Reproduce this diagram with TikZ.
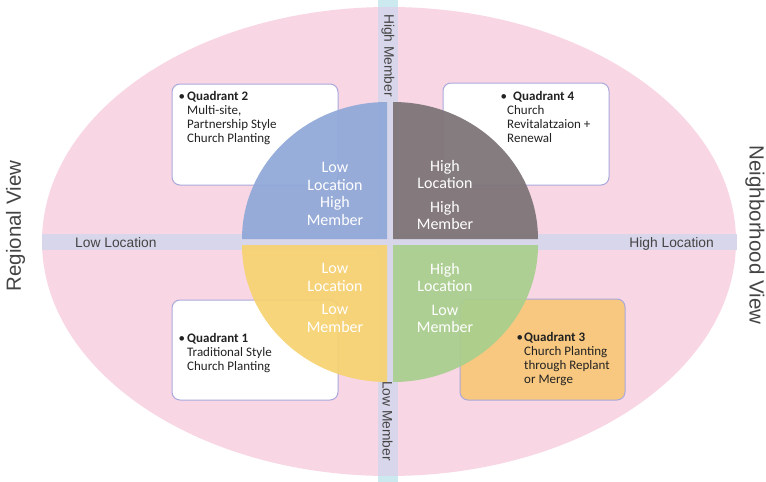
\documentclass[tikz,border=0pt]{standalone}
\usepackage{fontspec}
\setmainfont{Carlito}
\newfontfamily\axisfont{Liberation Sans}

\definecolor{viewpink}{HTML}{F8D6E4}
\definecolor{barlav}{HTML}{D8D6EA}
\definecolor{barcyan}{HTML}{CDE9F0}
\definecolor{boxline}{HTML}{A9A9DC}
\definecolor{quadblue}{HTML}{8FA8D8}
\definecolor{quadgray}{HTML}{7E7578}
\definecolor{quadyellow}{HTML}{F6D270}
\definecolor{quadgreen}{HTML}{A8CF8E}
\definecolor{replant}{HTML}{F8C880}
\definecolor{inkdark}{HTML}{222222}
\definecolor{inkgray}{HTML}{444444}

\begin{document}
\begin{tikzpicture}[x=1pt, y=-1pt, inner sep=0pt,
    quadbox/.style={draw=boxline, line width=1pt, rounded corners=8pt},
    boxtext/.style={anchor=base west, align=left, text=inkdark, font=\fontsize{13}{13.8}\selectfont},
    quadtext/.style={align=center, text=white, font=\fontsize{16}{17.4}\selectfont},
    axistext/.style={text=inkgray, font=\axisfont\fontsize{13.8}{16}\selectfont},
    viewtext/.style={text=inkgray, font=\axisfont\fontsize{20.5}{24}\selectfont}]
        \useasboundingbox (0, 0) rectangle (766, 482);
        \fill[viewpink] (389, 241.5) ellipse [x radius=347, y radius=234.5]; % outer view
        \fill[barcyan] (378, 0) rectangle (398, 482); % member axis
        \begin{scope}
            \clip (389, 241.5) ellipse [x radius=347, y radius=234.5];
            \fill[barlav] (378, 0) rectangle (398, 482); % member axis inside view
        \end{scope}
        \fill[barlav] (42, 234) rectangle (737, 250); % location axis
        \draw[quadbox, fill=white] (172, 84) rectangle (338, 185); % quadrant 2 box
        \draw[quadbox, fill=white] (443, 83) rectangle (609, 185); % quadrant 4 box
        \draw[quadbox, fill=white] (172, 300) rectangle (338, 400); % quadrant 1 box
        \draw[quadbox, fill=replant] (460, 299) rectangle (625, 400); % quadrant 3 box
        \node[boxtext] (q2) at (187, 142) {\llap{\textbullet\hspace{2pt}}\textbf{Quadrant 2}\\Multi-site,\\Partnership Style\\Church Planting};
        \node[boxtext] (q4) at (507, 142) {\llap{\textbullet}\hspace{6pt}\textbf{Quadrant 4}\\Church\\Revitalatzaion +\\Renewal};
        \node[boxtext] (q1) at (187, 370) {\llap{\textbullet\hspace{2pt}}\textbf{Quadrant 1}\\Traditional Style\\Church Planting};
        \node[boxtext] (q3) at (524, 383) {\llap{\textbullet\hspace{1pt}}\textbf{Quadrant 3}\\Church Planting\\through Replant\\or Merge};
        \fill[quadblue, opacity=0.92] (387, 239) -- (242, 239) arc[start angle=180, end angle=270, x radius=145, y radius=137] -- cycle; % low location, high member
        \fill[quadgray, opacity=0.95] (393, 239) -- (393, 102) arc[start angle=270, end angle=360, x radius=145, y radius=137] -- cycle; % high location, high member
        \fill[quadgreen, opacity=0.92] (393, 245) -- (538, 245) arc[start angle=0, end angle=90, x radius=145, y radius=137] -- cycle; % high location, low member
        \fill[quadyellow, opacity=0.92] (387, 245) -- (387, 382) arc[start angle=90, end angle=180, x radius=145, y radius=137] -- cycle; % low location, low member
        \node[quadtext] (lohi) at (335, 194) {Low\\Location\\High\\Member};
        \node[quadtext] (hihi) at (445, 195) {High\\Location\\[6pt]High\\Member};
        \node[quadtext] (lolo) at (335, 298) {Low\\Location\\[6pt]Low\\Member};
        \node[quadtext] (hilo) at (445, 298) {High\\Location\\[6pt]Low\\Member};
        \node[axistext, anchor=base west] (lowloc) at (75, 247) {Low Location};
        \node[axistext, anchor=base east] (highloc) at (714, 247) {High Location};
        \node[axistext, rotate=-90] (highmem) at (388, 55.5) {High Member};
        \node[axistext, rotate=-90] (lowmem) at (387.5, 421) {Low Member};
        \node[viewtext, rotate=90] (regional) at (15.5, 226) {Regional View};
        \node[viewtext, rotate=-90] (neighbor) at (755, 235) {Neighborhood View};
    \end{tikzpicture}
\end{document}
